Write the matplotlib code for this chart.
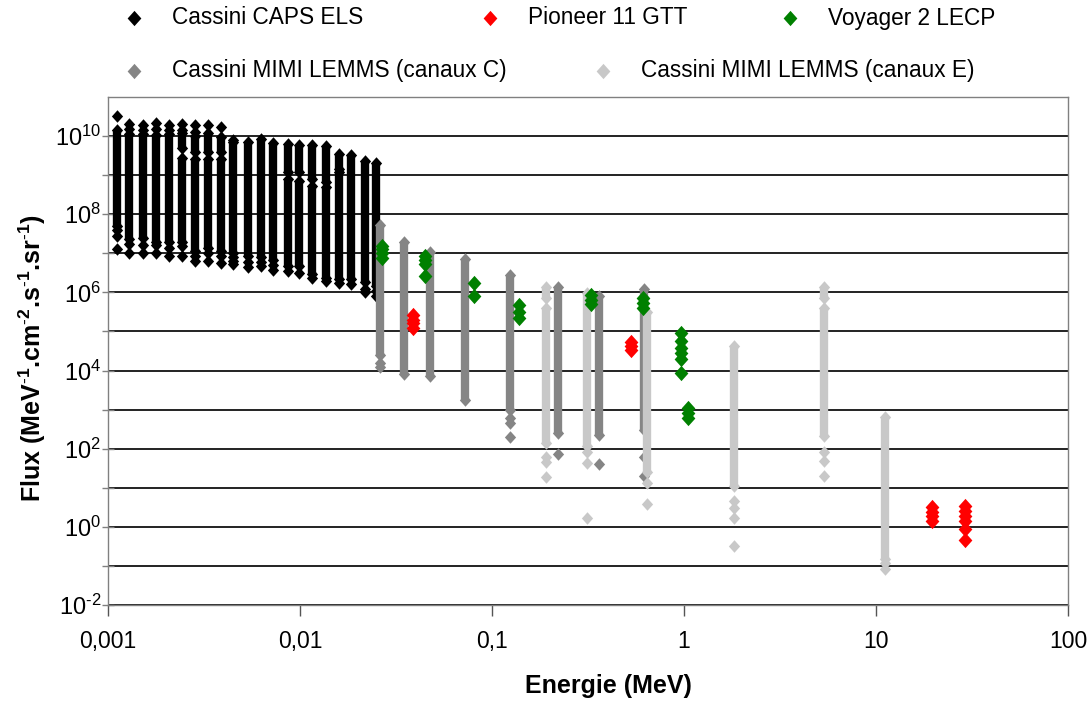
import numpy as np
import matplotlib
matplotlib.use("Agg")
import matplotlib.pyplot as plt
from matplotlib.lines import Line2D
from matplotlib.ticker import FixedLocator, NullLocator, NullFormatter

plt.rcParams['font.family'] = ['Liberation Sans', 'DejaVu Sans']
plt.rcParams['mathtext.fontset'] = 'custom'
plt.rcParams['mathtext.rm'] = 'Liberation Sans'
plt.rcParams['mathtext.it'] = 'Liberation Sans:italic'
plt.rcParams['mathtext.bf'] = 'Liberation Sans:bold'
plt.rcParams['mathtext.default'] = 'regular'

# ---------------- data ----------------
# Cassini CAPS ELS (black): dense ranges and individual points
els_seg_E = [0.00112, 0.00129, 0.00152, 0.00177, 0.00208,
             0.00242, 0.00242, 0.00284, 0.00284, 0.0033, 0.0033,
             0.00387, 0.00387, 0.0045, 0.00533, 0.00625, 0.00722,
             0.00862, 0.00862, 0.0099, 0.0099, 0.0116, 0.0116,
             0.0136, 0.0136, 0.0159, 0.0159, 0.0185, 0.0218, 0.025]
els_seg_lo = [5.0e7, 2.3e7, 2.5e7, 2.0e7, 2.0e7,
              5e9, 2.0e7, 4e9, 1.15e7, 4e9, 1.4e7,
              3.8e9, 1.15e7, 1.0e7, 8.5e6, 8e6, 6.6e6,
              1.2e9, 4.7e6, 1.2e9, 4.7e6, 8e8, 2.9e6,
              6.6e8, 2.4e6, 1.4e9, 2.2e6, 2.2e6, 1.8e6, 1.5e6]
els_seg_hi = [1.4e10, 1.1e10, 1.1e10, 1.05e10, 1.1e10,
              1.2e10, 2.8e9, 1.0e10, 2.6e9, 1.2e10, 2.6e9,
              9.3e9, 2.6e9, 7e9, 7e9, 8.3e9, 6.8e9,
              6.3e9, 8e8, 6e9, 7e8, 6e9, 5.2e8,
              5.6e9, 5e8, 3.5e9, 1.2e9, 3.2e9, 2.3e9, 2.1e9]
els_pt_E = [0.00112] * 4 + [0.00129] * 4 + [0.00152] * 4 + [0.00177] * 4 + \
           [0.00208] * 4 + [0.00242] * 4 + [0.00284] * 4 + [0.0033] * 3 + \
           [0.00387] * 3 + [0.0045] * 4 + [0.00533] * 2 + [0.00625] * 2 + \
           [0.00722] * 2 + [0.00862, 0.0099, 0.0116, 0.0136, 0.0159, 0.0185] + \
           [0.0218] * 2 + [0.025] * 2
els_pt_F = [3.3e10, 4e7, 2.8e7, 1.26e7,
            2.0e10, 1.5e10, 1.7e7, 1.0e7,
            1.9e10, 1.4e10, 1.6e7, 1.0e7,
            2.1e10, 1.5e10, 1.6e7, 1.0e7,
            1.9e10, 1.4e10, 1.4e7, 8.5e6,
            2.0e10, 1.45e10, 1.55e7, 8.5e6,
            1.9e10, 1.26e10, 8.5e6, 6.3e6,
            1.9e10, 1.0e7, 6.3e6,
            1.7e10, 8.5e6, 5.6e6,
            7.9e9, 8e6, 6.3e6, 5.2e6,
            5.9e6, 4.5e6,
            6e6, 4.7e6,
            5e6, 3.8e6,
            3.5e6, 3.1e6, 2.3e6, 1.9e6, 1.7e6, 1.6e6,
            1.2e6, 1.0e6,
            1.1e6, 8e5]

# Cassini MIMI LEMMS channels C (dark grey)
lemc_seg_E = [0.0262, 0.035, 0.0474, 0.0723, 0.124, 0.222, 0.361, 0.621]
lemc_seg_lo = [2.5e4, 8e3, 7.4e3, 1.8e3, 1.0e3, 2.5e2, 2.3e2, 3e2]
lemc_seg_hi = [5.2e7, 1.95e7, 1.05e7, 7e6, 2.8e6, 1.4e6, 8e5, 1.2e6]
lemc_pt_E = [0.0262, 0.0262, 0.124, 0.124, 0.124, 0.222, 0.361, 0.621, 0.621]
lemc_pt_F = [1.6e4, 1.2e4, 6e2, 4.5e2, 2.0e2, 7.2e1, 4e1, 6e1, 2e1]

# Cassini MIMI LEMMS channels E (light grey)
leme_seg_E = [0.1905, 0.1905, 0.314, 0.645, 1.83, 5.36, 5.36, 11.1]
leme_seg_lo = [7e5, 1.4e2, 1.2e2, 2.5e1, 1.1e1, 7e5, 2.1e2, 1.5e-1]
leme_seg_hi = [1.35e6, 4e5, 9.5e5, 3.2e5, 4.2e4, 1.35e6, 4e5, 6.5e2]
leme_pt_E = [0.1905] * 3 + [0.314] * 3 + [0.645] * 2 + [1.83] * 4 + [5.36] * 3 + [11.1] * 2
leme_pt_F = [6.3e1, 4.6e1, 1.9e1,
             8.1e1, 4.4e1, 1.7,
             1.35e1, 3.8,
             4.6, 3.1, 1.7, 0.32,
             8e1, 4.9e1, 1.95e1,
             1.2e-1, 8.3e-2]

# Pioneer 11 GTT (red)
pio_E = [0.0388] * 4 + [0.53] * 3 + [19.5] * 4 + [29.0] * 6
pio_F = [1.25e5, 1.6e5, 2.0e5, 2.6e5,
         3.3e4, 4.2e4, 5.5e4,
         1.45, 1.9, 2.4, 3.2,
         3.5, 2.6, 1.9, 1.45, 0.9, 0.45]

# Voyager 2 LECP (green)
voy_E = [0.0267] * 4 + [0.045] * 4 + [0.0805] * 2 + [0.138] * 3 + \
        [0.327] * 3 + [0.61] * 3 + [0.966] * 6 + [1.045] * 3
voy_F = [7.8e6, 1.0e7, 1.3e7, 1.5e7,
         2.7e6, 5.3e6, 6.6e6, 8.5e6,
         8.1e5, 1.75e6,
         2.2e5, 3.2e5, 4.7e5,
         4.9e5, 6.5e5, 8.7e5,
         4e5, 5.4e5, 7.2e5,
         8.7e3, 2.0e4, 2.8e4, 3.8e4, 5.6e4, 9.1e4,
         6.2e2, 8.3e2, 1.1e3]

x_ticks = [0.001, 0.01, 0.1, 1, 10, 100]
x_tick_labels = ['0,001', '0,01', '0,1', '1', '10', '100']
y_major = [1e-2, 1e0, 1e2, 1e4, 1e6, 1e8, 1e10]
y_major_labels = [r'$10^{\text{-}2}$', r'$10^{0}$', r'$10^{2}$', r'$10^{4}$',
                  r'$10^{6}$', r'$10^{8}$', r'$10^{10}$']
y_minor = [1e-1, 1e1, 1e3, 1e5, 1e7, 1e9]

legend_labels = ['Cassini CAPS ELS', 'Pioneer 11 GTT', 'Voyager 2 LECP',
                 'Cassini MIMI LEMMS (canaux C)', 'Cassini MIMI LEMMS (canaux E)']

C_ELS = '#000000'
C_PIO = '#ff0000'
C_VOY = '#008000'
C_LC = '#858585'
C_LE = '#c8c8c8'

# ---------------- figure ----------------
fig = plt.figure(figsize=(10.9, 7.01), dpi=100)
ax = fig.add_axes([108 / 1090, 1 - 605 / 701, 960 / 1090, 508 / 701])
ax.set_xscale('log')
ax.set_yscale('log')
ax.set_xlim(0.001, 100)
ax.set_ylim(1e-2, 1e11)

DIAM = [(0, 1), (0.9, 0), (0, -1), (-0.9, 0), (0, 1)]
MS_SMALL = 9.0
MS_BIG = 11.0
LW = 6.0


def draw(seg_E, seg_lo, seg_hi, pt_E, pt_F, color, z, ms):
    if seg_E:
        ax.vlines(seg_E, seg_lo, seg_hi, colors=color, lw=LW, zorder=z)
        ax.plot(list(seg_E) + list(seg_E), list(seg_lo) + list(seg_hi), ls='none',
                marker=DIAM, ms=ms, color=color, mec=color, mew=0, zorder=z)
    ax.plot(pt_E, pt_F, ls='none', marker=DIAM, ms=ms, color=color, mec=color,
            mew=0, zorder=z)


draw(els_seg_E, els_seg_lo, els_seg_hi, els_pt_E, els_pt_F, C_ELS, 3, MS_SMALL)
draw(lemc_seg_E, lemc_seg_lo, lemc_seg_hi, lemc_pt_E, lemc_pt_F, C_LC, 4, MS_SMALL)
draw(leme_seg_E, leme_seg_lo, leme_seg_hi, leme_pt_E, leme_pt_F, C_LE, 5, MS_SMALL)
draw([], [], [], pio_E, pio_F, C_PIO, 6, MS_BIG)
draw([], [], [], voy_E, voy_F, C_VOY, 7, MS_BIG)

# axes styling
ax.set_xticks(x_ticks, labels=x_tick_labels)
ax.xaxis.set_minor_locator(NullLocator())
ax.set_yticks(y_major, labels=y_major_labels)
ax.yaxis.set_minor_locator(FixedLocator(y_minor))
ax.yaxis.set_minor_formatter(NullFormatter())
ax.tick_params(axis='y', which='both', direction='inout', length=8, width=1,
               color='#808080', labelsize=17, pad=1)
ax.tick_params(axis='x', which='major', direction='out', length=8, width=1,
               color='#555555', labelsize=16.5, pad=10)
ax.grid(axis='y', which='both', color='#111111', lw=1.3, zorder=1)
ax.set_axisbelow(True)
for s in ax.spines.values():
    s.set_color('#808080')
    s.set_linewidth(1)

ax.set_xlabel('Energie (MeV)', fontsize=18, fontweight='bold')
ax.xaxis.set_label_coords(0.521, -0.135)
ax.set_ylabel(r'Flux (MeV$^{\text{-}1}$.cm$^{\text{-}2}$.s$^{\text{-}1}$.sr$^{\text{-}1}$)',
              fontsize=18, fontweight='bold')
ax.yaxis.set_label_coords(-0.063, 0.485)

# legend (two rows)
leg_colors = [C_ELS, C_PIO, C_VOY, C_LC, C_LE]
leg_mx = [134, 490, 790, 134, 603]
leg_y = [18, 18, 18, 71, 71]
for lab, col, mx, my in zip(legend_labels, leg_colors, leg_mx, leg_y):
    fx = mx / 1090
    fy = 1 - my / 701
    fig.add_artist(Line2D([fx], [fy], transform=fig.transFigure, ls='none',
                          marker=DIAM, ms=11, color=col, mew=0))
    fig.text(fx + 38 / 1090, fy, lab, fontsize=16.3, va='center', ha='left')

fig.savefig('out.png', dpi=100)
